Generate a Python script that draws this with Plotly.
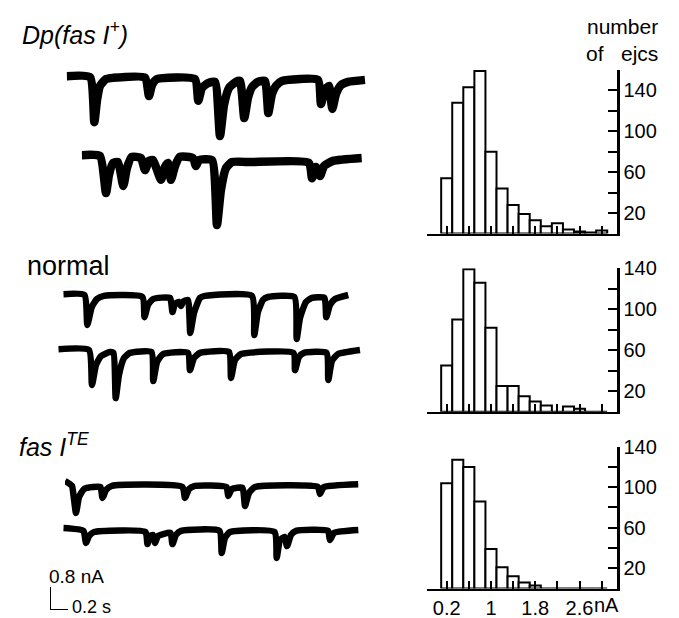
import plotly.graph_objects as go

W, H = 679, 618

# ---------------- histogram data (number of ejcs per 0.2 nA bin) ----------------
BIN_CENTERS = [0.2, 0.4, 0.6, 0.8, 1.0, 1.2, 1.4, 1.6, 1.8, 2.0, 2.2, 2.4, 2.6, 2.8, 3.0]
DP_COUNTS = [54, 128, 143, 159, 80, 44, 28, 19, 13, 7, 10, 4, 2, 1, 3]
NORMAL_COUNTS = [45, 90, 139, 126, 82, 25, 25, 15, 10, 6, 0, 5, 3, 0, 0]
FAS_COUNTS = [104, 127, 120, 86, 39, 21, 12, 6, 3, 0, 0, 0, 0, 0, 0]

X_LABEL_VALS = [0.2, 1.0, 1.8, 2.6]
X_LABEL_TEXT = ["0.2", "1", "1.8", "2.6"]
X_MINOR_VALS = [0.6, 1.4, 2.2, 3.0]
X_UNIT = "nA"
Y_LABEL_VALS = [20, 60, 100, 140]
Y_LABEL_TEXT = ["20", "60", "100", "140"]
Y_MINOR_VALS = [40, 80, 120, 160]

# ---------------- current traces: time (ms), current (nA) ----------------
DP1_T = [0, 259, 307, 337, 370, 437, 514, 870, 914, 948, 1003, 1425, 1462, 1503, 1570, 1648,
         1703, 1748, 1803, 1881, 1926, 1973, 2014, 2059, 2125, 2203, 2240, 2281, 2325, 2392,
         2792, 2825, 2870, 2914, 2951, 2992, 3047, 3125, 3314]
DP1_I = [0.03, 0, -1.57, -0.80, -0.31, -0.07, -0.03, -0.02, -0.66, -0.28, -0.07, -0.07, -0.83,
         -0.38, -0.21, -0.17, -2.05, -0.97, -0.38, -0.17, -0.14, -1.43, -0.73, -0.35, -0.17,
         -0.14, -1.25, -0.59, -0.31, -0.14, -0.10, -0.94, -0.45, -0.31, -1.11, -0.59, -0.28,
         -0.17, -0.10]

DP2_T = [0, 203, 270, 303, 348, 403, 462, 503, 555, 659, 703, 748, 792, 881, 925, 959, 992,
         1037, 1092, 1236, 1270, 1303, 1448, 1503, 1547, 1603, 1670, 1870, 2525, 2559, 2603,
         2648, 2692, 2792, 3111]
DP2_I = [0.03, 0, -1.29, -0.66, -0.24, -0.21, -1.04, -0.42, -0.03, -0.07, -0.49, -0.17, -0.14,
         -0.83, -0.38, -0.24, -0.83, -0.35, -0.03, -0.07, -0.35, -0.14, -0.14, -2.40, -1.18,
         -0.42, -0.21, -0.21, -0.24, -0.77, -0.38, -0.70, -0.35, -0.17, -0.07]

NORM1_T = [0, 236, 267, 316, 374, 452, 880, 902, 941, 997, 1186, 1213, 1241, 1285, 1308, 1330,
           1385, 1411, 1452, 1519, 1574, 2096, 2122, 2163, 2219, 2274, 2568, 2593, 2630, 2696,
           2763, 2902, 2922, 2963, 3019, 3166]
NORM1_I = [0.03, 0, -1.04, -0.42, -0.14, -0.03, -0.07, -0.77, -0.35, -0.14, -0.10, -0.59, -0.31,
           -0.24, -0.38, -0.24, -0.17, -1.32, -0.63, -0.10, -0.03, -0.03, -1.39, -0.59, -0.17,
           -0.07, -0.07, -1.53, -0.80, -0.24, -0.10, -0.10, -0.77, -0.35, -0.14, 0]

NORM2_T = [0, 341, 374, 419, 474, 574, 613, 638, 674, 730, 796, 1035, 1055, 1097, 1163, 1441,
           1463, 1508, 1574, 1896, 1919, 1963, 2030, 2613, 2630, 2674, 2730, 2980, 3000, 3041,
           3108, 3352]
NORM2_I = [0.03, 0, -1.22, -0.52, -0.21, -0.07, -0.10, -1.67, -0.87, -0.28, -0.10, -0.07, -1.08,
           -0.42, -0.14, -0.10, -0.70, -0.28, -0.10, -0.07, -0.97, -0.35, -0.14, -0.10, -0.70,
           -0.24, -0.10, -0.10, -1.04, -0.38, -0.14, 0]

FAS1_T = [0, 56, 78, 122, 156, 211, 311, 394, 417, 456, 522, 1305, 1333, 1378, 1444, 1794, 1814,
          1855, 1972, 2000, 2044, 2111, 2811, 2833, 2877, 3258]
FAS1_I = [0.14, 0.03, -0.03, -0.97, -0.42, -0.14, -0.07, -0.07, -0.45, -0.17, -0.03, -0.07,
          -0.45, -0.14, -0.03, -0.07, -0.38, -0.14, -0.10, -0.73, -0.28, -0.07, -0.07, -0.31,
          -0.07, 0.03]

FAS2_T = [0, 224, 252, 286, 341, 913, 935, 963, 996, 1019, 1052, 1191, 1213, 1252, 1308, 1735,
          1760, 1796, 1852, 2347, 2371, 2408, 2458, 2486, 2530, 2586, 2941, 2963, 3008, 3278]
FAS2_I = [0.07, -0.03, -0.45, -0.21, -0.07, -0.07, -0.49, -0.21, -0.17, -0.45, -0.21, -0.10,
          -0.49, -0.17, -0.03, -0.03, -0.80, -0.28, -0.07, -0.07, -0.97, -0.35, -0.24, -0.56,
          -0.17, -0.03, -0.03, -0.35, -0.10, 0]

# scale bar: 0.8 nA, 0.2 s
SCALE_T = [0, 0, 200]
SCALE_I = [0.8, 0, 0]

# ---------------- layout helpers (pixel geometry) ----------------
MS_PER_PX = 200 / 18.0
PX_PER_NA = 23 / 0.8


def fx(p):
    return p / W


def fy(p):
    return 1 - p / H


fig = go.Figure()
layout = {}

# trace panels: (t, i, left px, baseline px, line width)
trace_specs = [
    (DP1_T, DP1_I, 66.7, 77, 8.5),
    (DP2_T, DP2_I, 81.7, 156, 8.5),
    (NORM1_T, NORM1_I, 63.3, 295, 6.5),
    (NORM2_T, NORM2_I, 58.3, 350, 6.5),
    (FAS1_T, FAS1_I, 65, 485, 6.5),
    (FAS2_T, FAS2_I, 63.3, 530, 6.5),
]

n = 0
for t, cur, x0, base, lw in trace_specs:
    n += 1
    span = 310
    layout[f"xaxis{n}"] = dict(domain=[fx(x0), fx(x0 + span)], range=[0, span * MS_PER_PX],
                               visible=False, anchor=f"y{n}")
    layout[f"yaxis{n}"] = dict(domain=[fy(base + 85), fy(base - 20)],
                               range=[-85 / PX_PER_NA, 20 / PX_PER_NA], visible=False,
                               anchor=f"x{n}")
    fig.add_trace(go.Scatter(x=t, y=cur, mode="lines", xaxis=f"x{n}", yaxis=f"y{n}",
                             line=dict(color="black", width=lw, shape="spline",
                                       smoothing=0.5),
                             showlegend=False, hoverinfo="skip"))

# scale bar axis
n += 1
layout[f"xaxis{n}"] = dict(domain=[fx(50), fx(150)], range=[0, 100 * MS_PER_PX],
                           visible=False, anchor=f"y{n}")
layout[f"yaxis{n}"] = dict(domain=[fy(610), fy(560)], range=[0, 50 / PX_PER_NA],
                           visible=False, anchor=f"x{n}")
fig.add_trace(go.Scatter(x=SCALE_T, y=SCALE_I, mode="lines", xaxis=f"x{n}", yaxis=f"y{n}",
                         line=dict(color="black", width=2), showlegend=False,
                         hoverinfo="skip"))

# histograms
hist_specs = [
    (DP_COUNTS, 70, 233.5, 160, False),
    (NORMAL_COUNTS, 268.3, 411.7, 140, False),
    (FAS_COUNTS, 446.7, 588.5, 140, True),
]
FONT = "Liberation Sans, Arial, sans-serif"
for counts, top, bot, ymax, labels in hist_specs:
    n += 1
    layout[f"xaxis{n}"] = dict(
        domain=[fx(427), fx(617)], range=[-0.156, 3.277], anchor=f"y{n}",
        showgrid=False, zeroline=False, showline=True, linecolor="black", linewidth=2,
        ticks="inside", ticklen=8, tickwidth=2, tickcolor="black",
        tickmode="array", tickvals=X_LABEL_VALS, ticktext=X_LABEL_TEXT, tickangle=0,
        showticklabels=labels, tickfont=dict(family=FONT, size=20, color="black"),
        minor=dict(tickmode="array", tickvals=X_MINOR_VALS, ticks="inside", ticklen=8,
                   tickwidth=2, tickcolor="black", showgrid=False),
        automargin=False,
    )
    layout[f"yaxis{n}"] = dict(
        domain=[fy(bot), fy(top)], range=[0, ymax], anchor=f"x{n}", side="right",
        showgrid=False, zeroline=False, showline=True, linecolor="black", linewidth=2.5,
        ticks="inside", ticklen=9, tickwidth=2, tickcolor="black",
        tickmode="array", tickvals=Y_LABEL_VALS, ticktext=Y_LABEL_TEXT,
        tickfont=dict(family=FONT, size=20, color="black"),
        minor=dict(tickmode="array", tickvals=[v for v in Y_MINOR_VALS if v <= ymax],
                   ticks="inside", ticklen=9, tickwidth=2, tickcolor="black",
                   showgrid=False),
        automargin=False,
    )
    fig.add_trace(go.Bar(x=BIN_CENTERS, y=counts, width=0.2, xaxis=f"x{n}", yaxis=f"y{n}",
                         marker=dict(color="white", line=dict(color="black", width=2)),
                         showlegend=False, hoverinfo="skip"))


def ann(text, x, y, size, xanchor="left"):
    return dict(text=text, x=fx(x), y=fy(y), xref="paper", yref="paper",
                xanchor=xanchor, yanchor="middle", showarrow=False,
                font=dict(family=FONT, size=size, color="black"))


annotations = [
    ann("<i>Dp(fas I<sup>+</sup>)</i>", 20, 33, 25),
    ann("normal", 25, 266, 27),
    ann("<i>fas I<sup>TE</sup></i>", 17, 445, 25),
    ann("0.8 nA", 47, 576, 19),
    ann("0.2 s", 70, 607, 18),
    ann("number", 622, 27, 21, "center"),
    ann("of\u00a0\u00a0\u00a0ejcs", 622, 53, 21, "center"),
    ann(X_UNIT, 606, 605, 20, "center"),
]

fig.update_layout(
    width=W, height=H, margin=dict(l=0, r=0, t=0, b=0, pad=0, autoexpand=False),
    paper_bgcolor="white", plot_bgcolor="rgba(0,0,0,0)",
    showlegend=False, annotations=annotations, bargap=0,
    **layout,
)

fig.write_html(
    "out.html",
    config={"displayModeBar": False, "staticPlot": True},
    post_script="document.body.style.margin='0';document.body.style.overflow='hidden';",
)
